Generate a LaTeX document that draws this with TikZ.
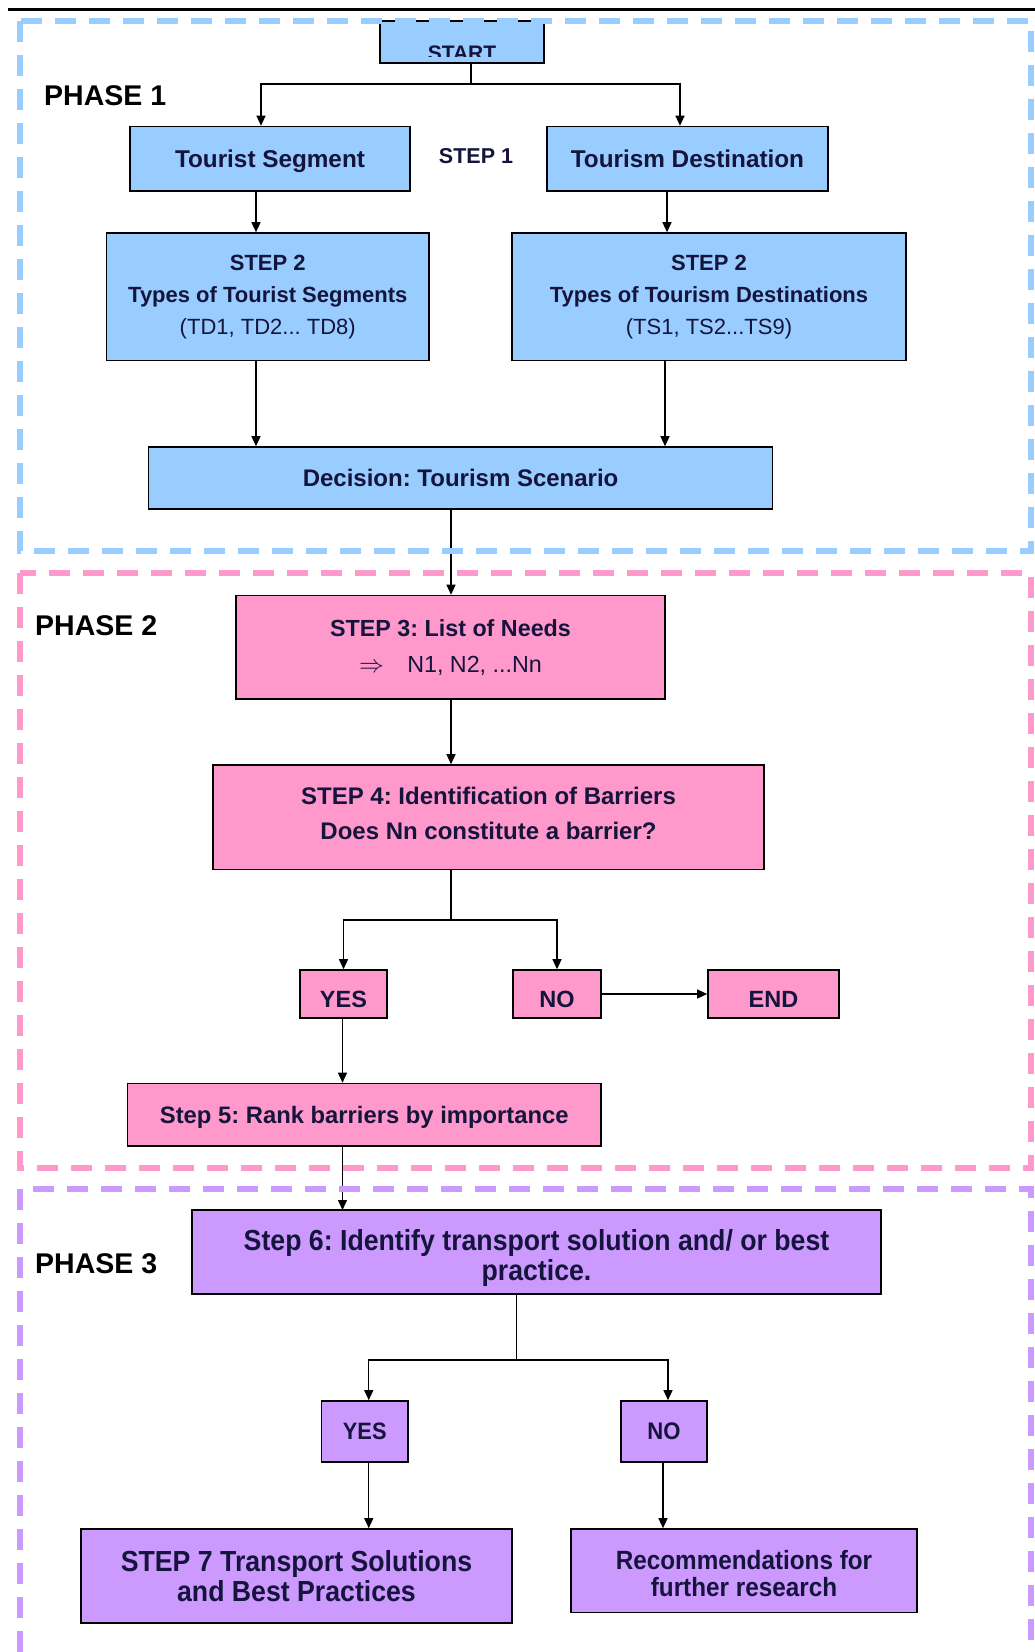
\documentclass[tikz,border=0pt]{standalone}
\usepackage{fontspec}
\setmainfont{Liberation Sans}
\newfontfamily\narrowfont[FakeStretch=0.92]{Liberation Sans}
\usetikzlibrary{arrows.meta,calc}
\definecolor{pblue}{HTML}{99CCFF}
\definecolor{ppink}{HTML}{FF99CC}
\definecolor{ppurple}{HTML}{CC99FF}
\definecolor{txt}{RGB}{20,20,60}
\newcommand{\fs}[2]{\fontsize{#1}{#2}\selectfont}
\frenchspacing
\begin{document}
\begin{tikzpicture}[x=1pt,y=-1pt,
  bbox/.style={draw=black,line width=1.6pt,inner sep=0pt,align=center,text=txt},
  bluebox/.style={bbox,fill=pblue},
  pinkbox/.style={bbox,fill=ppink},
  purplebox/.style={bbox,fill=ppurple},
  lowtext/.style={text height=26pt,text depth=0pt},
  boxtext/.style={inner sep=0pt,align=center,text=txt},
  arr/.style={line width=1.3pt,-{Triangle[length=10pt,width=9pt]}},
  ln/.style={line width=1.3pt},
  phaseline/.style={line width=6pt,dash pattern=on 21pt off 13pt},
  phaselabel/.style={anchor=west,inner sep=0pt,text=black,font=\bfseries\fs{28.5}{32}}
]
\useasboundingbox (0,0) rectangle (1035,1652);
\fill[white] (0,0) rectangle (1035,1652);
% top rule
\draw[line width=3pt] (8,9) -- (1035,9);

% ---------- PHASE 1 ----------
\node[bluebox,minimum width=164pt,minimum height=42pt] (start) at (462,42) {};
\begin{scope}
  \clip (381,22) rectangle (543,56);
  \node[inner sep=0pt,anchor=base,text=txt,font=\bfseries\fs{21}{24}] (starttxt) at (462,60) {START};
\end{scope}
\node[bluebox,minimum width=280pt,minimum height=64.5pt,font=\bfseries\fs{24.3}{28},text depth=0pt] (ts) at (270,158.75) {Tourist Segment};
\node[bluebox,minimum width=281pt,minimum height=64.5pt,font=\bfseries\fs{24.3}{28},text depth=0pt] (td) at (687.5,158.75) {Tourism Destination};
\node[inner sep=0pt,text=txt,font=\bfseries\fs{21.5}{24}] (step1) at (476,156) {STEP 1};
\node[bluebox,minimum width=322.5pt,minimum height=127.5pt,font=\bfseries\fs{22}{32}] (st2l) at (267.75,296.75)
  {STEP 2\\Types of Tourist Segments\\{\mdseries (TD1, TD2... TD8)}};
\node[bluebox,minimum width=394pt,minimum height=127.5pt,font=\bfseries\fs{22}{32}] (st2r) at (709,296.75)
  {STEP 2\\Types of Tourism Destinations\\{\mdseries (TS1, TS2...TS9)}};
\node[bluebox,minimum width=624pt,minimum height=62pt,font=\bfseries\fs{24}{28}] (dec) at (460.6,478) {Decision: Tourism Scenario};
\node[phaselabel] (ph1) at (44,96) {PHASE 1};

\draw[ln] ([xshift=9pt]start.south) -- ([xshift=9pt]start.south |- 0,84) coordinate (b1);
\draw[arr] (b1) -| ([xshift=-9pt]ts.north);
\draw[arr] (b1) -| ([xshift=-7.5pt]td.north);
\draw[arr] ([xshift=-14pt]ts.south) -- ([xshift=-14pt]ts.south |- st2l.north);
\draw[arr] ([xshift=-20.5pt]td.south) -- ([xshift=-20.5pt]td.south |- st2r.north);
\draw[arr] ([xshift=-11.75pt]st2l.south) -- ([xshift=-11.75pt]st2l.south |- dec.north);
\draw[arr] ([xshift=-44pt]st2r.south) -- ([xshift=-44pt]st2r.south |- dec.north);

% ---------- PHASE 2 ----------
\node[pinkbox,minimum width=429pt,minimum height=103.5pt,font=\bfseries\fs{23.3}{36}] (st3) at (450.5,647.25)
  {STEP 3: List of Needs\\{\mdseries$\Rightarrow$\quad N1, N2, ...Nn}};
\node[pinkbox,minimum width=551pt,minimum height=104.5pt] (st4) at (488.5,817.25) {};
\node[boxtext,font=\bfseries\fs{24}{35.5}] (st4t) at ([yshift=4pt]st4.center)
  {STEP 4: Identification of Barriers\\Does Nn constitute a barrier?};
\node[pinkbox,minimum width=87pt,minimum height=48pt,font=\bfseries\fs{23.5}{26},lowtext] (yes) at (343.5,994) {YES};
\node[pinkbox,minimum width=88pt,minimum height=48pt,font=\bfseries\fs{23.5}{26},lowtext] (no) at (557,994) {NO};
\node[pinkbox,minimum width=131pt,minimum height=48pt,font=\bfseries\fs{23.5}{26},lowtext] (end) at (773.5,994) {END};
\node[pinkbox,minimum width=473.5pt,minimum height=62.2pt,font=\bfseries\fs{23.8}{26},text depth=0pt] (st5) at (364.25,1114.6)
  {Step 5: Rank barriers by importance};
\node[phaselabel] (ph2) at (35,626) {PHASE 2};

\draw[arr] ([xshift=-9.6pt]dec.south) -- ([xshift=-9.6pt]dec.south |- st3.north);
\draw[arr] ([xshift=0.5pt]st3.south) -- ([xshift=0.5pt]st3.south |- st4.north);
\draw[ln] ([xshift=-37.5pt]st4.south) -- ([xshift=-37.5pt]st4.south |- 0,920) coordinate (b2);
\draw[arr] (b2) -| (yes.north);
\draw[arr] (b2) -| (no.north);
\draw[arr] (no.east) -- (end.west);
\draw[arr] ([xshift=-1pt]yes.south) -- ([xshift=-1pt]yes.south |- st5.north);
\draw[arr] ([xshift=-21.75pt]st5.south) -- ([xshift=-21.75pt]st5.south |- 0,1210);

% ---------- PHASE 3 ----------
\node[purplebox,minimum width=689pt,minimum height=84pt] (st6) at (536.5,1252) {};
\node[boxtext,font=\narrowfont\bfseries\fs{29}{29.5}] (st6t) at ([yshift=-6pt]st6.center)
  {Step 6: Identify transport solution and/ or best\\practice.};
\node[purplebox,minimum width=86.5pt,minimum height=61pt,font=\narrowfont\bfseries\fs{23.7}{26}] (yes3) at (364.75,1431.5) {YES};
\node[purplebox,minimum width=86pt,minimum height=61pt,font=\narrowfont\bfseries\fs{24}{26}] (no3) at (664,1431.5) {NO};
\node[purplebox,minimum width=431pt,minimum height=94pt,font=\narrowfont\bfseries\fs{29}{30.5}] (st7) at (296.5,1576)
  {STEP 7 Transport Solutions\\and Best Practices};
\node[purplebox,minimum width=346pt,minimum height=83.6pt] (rec) at (744,1570.8) {};
\node[boxtext,font=\narrowfont\bfseries\fs{26.4}{27}] (rect) at ([yshift=-3pt]rec.center)
  {Recommendations for\\further research};
\node[phaselabel] (ph3) at (35,1264) {PHASE 3};

\draw[ln] ([xshift=-20pt]st6.south) -- ([xshift=-20pt]st6.south |- 0,1360) coordinate (b3);
\draw[arr] (b3) -| ([xshift=4pt]yes3.north);
\draw[arr] (b3) -| ([xshift=4pt]no3.north);
\draw[arr] ([xshift=4pt]yes3.south) -- ([xshift=4pt]yes3.south |- st7.north);
\draw[arr] ([xshift=-1pt]no3.south) -- ([xshift=-1pt]no3.south |- rec.north);

% ---------- phase frames ----------
\draw[pblue,phaseline] (20,21) rectangle (1031,551);
\draw[ppink,phaseline] (20,573) rectangle (1031,1168);
\draw[ppurple,phaseline] (20,1652) -- (20,1189) -- (1031,1189) -- (1031,1652);
\end{tikzpicture}
\end{document}
